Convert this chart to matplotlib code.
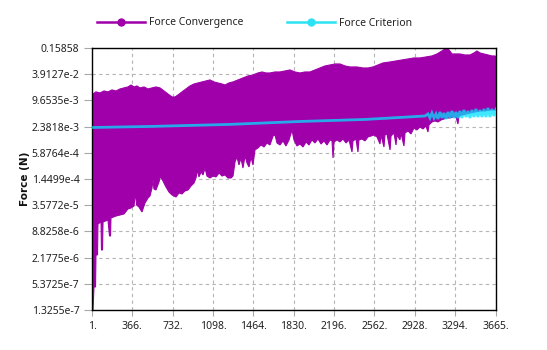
import numpy as np
import matplotlib
matplotlib.use("Agg")
import matplotlib.pyplot as plt
from matplotlib.lines import Line2D

plt.rcParams['font.family'] = ['Noto Sans', 'DejaVu Sans']

# ---------------- data ----------------
# Force Convergence: upper envelope (peaks) of the oscillating residual
conv_upper_iter = [1, 10, 37, 74, 110, 146, 182, 219, 255, 291, 327, 355, 382, 409, 436,
                   473, 509, 545, 581, 618, 654, 690, 727, 754, 781, 817, 853, 890, 926,
                   962, 999, 1035, 1071, 1107, 1144, 1180, 1207, 1243, 1280, 1325, 1370,
                   1416, 1461, 1506, 1543, 1579, 1615, 1661, 1706, 1751, 1797, 1842, 1887,
                   1933, 1978, 2023, 2069, 2114, 2160, 2205, 2250, 2296, 2341, 2404, 2458,
                   2504, 2549, 2595, 2640, 2704, 2758, 2812, 2867, 2921, 2976, 3030, 3084,
                   3130, 3175, 3202, 3220, 3239, 3266, 3302, 3338, 3384, 3429, 3465, 3492,
                   3520, 3556, 3592, 3628, 3656, 3665]
conv_upper = [0.0110, 0.0136, 0.0152, 0.0144, 0.0160, 0.0152, 0.0169, 0.0160, 0.0178, 0.0188,
              0.0198, 0.0220, 0.0198, 0.0209, 0.0188, 0.0198, 0.0178, 0.0188, 0.0198, 0.0188,
              0.0160, 0.0136, 0.0116, 0.0116, 0.0129, 0.0152, 0.0178, 0.0209, 0.0232, 0.0245,
              0.0259, 0.0273, 0.0288, 0.0259, 0.0245, 0.0232, 0.0220, 0.0245, 0.0259, 0.0288,
              0.0320, 0.0356, 0.0376, 0.0418, 0.0441, 0.0418, 0.0418, 0.0441, 0.0441, 0.0465,
              0.0491, 0.0441, 0.0418, 0.0441, 0.0441, 0.0491, 0.0546, 0.0608, 0.0641, 0.0676,
              0.0676, 0.0608, 0.0576, 0.0576, 0.0546, 0.0546, 0.0576, 0.0641, 0.0713, 0.0752,
              0.0794, 0.0837, 0.0883, 0.0932, 0.0932, 0.0983, 0.1037, 0.1154, 0.1354, 0.1507,
              0.1580, 0.1429, 0.1154, 0.1154, 0.1154, 0.1094, 0.1094, 0.1217, 0.1354, 0.1217,
              0.1154, 0.1094, 0.1037, 0.1037, 0.0983]

# Force Convergence: lower envelope (troughs)
conv_lower_iter = [1, 10, 19, 33, 37, 51, 55, 83, 87, 96, 101, 146, 160, 169, 173, 219, 255,
                   291, 327, 355, 382, 395, 405, 427, 454, 482, 509, 527, 545, 554, 563, 581,
                   609, 618, 636, 654, 672, 699, 727, 763, 790, 817, 844, 872, 899, 926, 944,
                   958, 971, 990, 1008, 1026, 1044, 1071, 1098, 1126, 1153, 1180, 1207, 1234,
                   1262, 1280, 1298, 1316, 1334, 1352, 1370, 1389, 1407, 1425, 1443, 1461,
                   1479, 1506, 1534, 1561, 1588, 1615, 1643, 1661, 1679, 1706, 1733, 1760,
                   1788, 1815, 1833, 1860, 1887, 1915, 1942, 1969, 1996, 2023, 2051, 2078,
                   2105, 2132, 2160, 2178, 2187, 2196, 2223, 2250, 2277, 2305, 2332, 2359,
                   2368, 2395, 2413, 2422, 2449, 2477, 2504, 2531, 2558, 2586, 2613, 2622,
                   2649, 2658, 2676, 2704, 2713, 2740, 2758, 2767, 2794, 2803, 2830, 2840,
                   2867, 2894, 2921, 2948, 2976, 3003, 3030, 3048, 3057, 3084, 3112, 3139,
                   3166, 3193, 3220, 3248, 3275, 3302, 3320, 3329, 3356, 3393, 3429, 3474,
                   3520, 3565, 3610, 3665]
conv_lower = [1.3255e-7, 1.3255e-7, 4.53e-7, 4.53e-7, 2.51e-6, 2.51e-6, 1.31e-5, 1.46e-5,
              3.27e-6, 3.27e-6, 1.46e-5, 1.62e-5, 6.91e-6, 6.91e-6, 1.81e-5, 2.01e-5, 2.12e-5,
              2.24e-5, 2.92e-5, 3.08e-5, 3.43e-5, 7.25e-5, 3.62e-5, 3.25e-5, 2.49e-5, 4.03e-5,
              5.26e-5, 5.86e-5, 8.98e-5, 1.38e-4, 8.51e-5, 8.07e-5, 1.24e-4, 1.62e-4, 1.45e-4,
              1.17e-4, 9.47e-5, 7.25e-5, 6.18e-5, 5.55e-5, 6.88e-5, 6.52e-5, 7.65e-5, 8.07e-5,
              9.99e-5, 1.17e-4, 1.53e-4, 2.35e-4, 1.62e-4, 2.11e-4, 1.80e-4, 2.61e-4, 1.70e-4,
              1.53e-4, 1.70e-4, 1.62e-4, 2.00e-4, 1.70e-4, 1.80e-4, 1.53e-4, 1.53e-4, 1.70e-4,
              3.60e-4, 4.70e-4, 3.07e-4, 4.46e-4, 2.61e-4, 4.96e-4, 3.41e-4, 2.76e-4, 4.70e-4,
              3.07e-4, 6.84e-4, 7.61e-4, 8.93e-4, 8.03e-4, 9.94e-4, 8.93e-4, 1.44e-3, 1.52e-3,
              9.94e-4, 8.93e-4, 1.11e-3, 8.47e-4, 1.17e-3, 1.99e-3, 1.17e-3, 8.47e-4, 9.42e-4,
              8.03e-4, 1.05e-3, 8.93e-4, 1.17e-3, 9.94e-4, 1.23e-3, 9.42e-4, 1.11e-3, 8.93e-4,
              1.17e-3, 1.11e-3, 4.46e-4, 1.05e-3, 1.17e-3, 1.05e-3, 1.23e-3, 9.94e-4, 1.17e-3,
              6.14e-4, 1.11e-3, 1.23e-3, 6.14e-4, 1.17e-3, 1.23e-3, 1.11e-3, 1.37e-3, 1.44e-3,
              1.52e-3, 1.37e-3, 9.42e-4, 1.52e-3, 8.03e-4, 1.52e-3, 1.61e-3, 6.84e-4, 1.44e-3,
              1.70e-3, 8.93e-4, 1.52e-3, 1.17e-3, 1.70e-3, 8.47e-4, 1.70e-3, 1.89e-3, 1.61e-3,
              2.21e-3, 1.99e-3, 2.34e-3, 2.10e-3, 2.46e-3, 1.79e-3, 2.60e-3, 3.05e-3, 3.22e-3,
              3.05e-3, 3.39e-3, 3.58e-3, 3.78e-3, 3.78e-3, 3.98e-3, 3.98e-3, 2.74e-3, 4.20e-3,
              4.43e-3, 4.68e-3, 4.93e-3, 5.20e-3, 5.49e-3, 5.49e-3, 5.79e-3, 5.79e-3]

# Force Criterion
crit_iter = [1, 527, 1234, 1887, 2477, 2794, 3021, 3048, 3066, 3084, 3103, 3121, 3139, 3157,
             3175, 3193, 3211, 3230, 3248, 3266, 3284, 3302, 3320, 3338, 3356, 3374, 3393,
             3411, 3429, 3447, 3465, 3483, 3501, 3520, 3538, 3556, 3574, 3592, 3610, 3628,
             3647, 3665]
crit_val = [2.27e-3, 2.40e-3, 2.67e-3, 3.13e-3, 3.49e-3, 3.88e-3, 4.20e-3, 4.68e-3, 3.78e-3,
            4.93e-3, 3.78e-3, 4.68e-3, 3.58e-3, 5.20e-3, 3.78e-3, 4.93e-3, 3.58e-3, 5.20e-3,
            3.78e-3, 5.49e-3, 3.78e-3, 5.20e-3, 3.78e-3, 5.49e-3, 3.78e-3, 5.79e-3, 3.98e-3,
            5.49e-3, 3.78e-3, 5.79e-3, 3.98e-3, 6.11e-3, 3.98e-3, 5.79e-3, 3.98e-3, 6.11e-3,
            3.98e-3, 6.45e-3, 3.98e-3, 6.11e-3, 4.20e-3, 6.11e-3]

x_ticks = [1, 366, 732, 1098, 1464, 1830, 2196, 2562, 2928, 3294, 3665]
x_tick_labels = ['1.', '366.', '732.', '1098.', '1464.', '1830.', '2196.', '2562.',
                 '2928.', '3294.', '3665.']
y_tick_labels = ['1.3255e-7', '5.3725e-7', '2.1775e-6', '8.8258e-6', '3.5772e-5',
                 '1.4499e-4', '5.8764e-4', '2.3818e-3', '9.6535e-3', '3.9127e-2', '0.15858']

series_names = ['Force Convergence', 'Force Criterion']
y_label = 'Force (N)'

# ---------------- drawing ----------------
PURPLE = '#A000AA'
CYAN = '#00E1FF'

fig = plt.figure(figsize=(5.47, 3.50), dpi=100)
ax = fig.add_axes([92 / 547, 1 - 310 / 350, (496 - 92) / 547, (310 - 48) / 350])
ax.set_yscale('log')
y_ticks = [float(s) for s in y_tick_labels]
ax.set_xlim(x_ticks[0], x_ticks[-1])
ax.set_ylim(y_ticks[0], y_ticks[-1])

ax.set_axisbelow(True)
ax.grid(True, which='major', linestyle=(0, (3, 3)), color='#B4B4B4', linewidth=0.8)

poly_x = np.concatenate([conv_upper_iter, conv_lower_iter[::-1]])
poly_y = np.concatenate([conv_upper, conv_lower[::-1]])
ax.fill(poly_x, poly_y, facecolor=PURPLE, edgecolor=PURPLE, linewidth=0.8, zorder=2)

ax.plot(crit_iter, crit_val, color=CYAN, alpha=0.75, linewidth=2.0, zorder=3,
        solid_joinstyle='miter')

ax.set_xticks(x_ticks)
ax.set_xticklabels(x_tick_labels)
ax.set_yticks(y_ticks)
ax.set_yticklabels(y_tick_labels)
ax.minorticks_off()
ax.tick_params(axis='both', direction='out', color='#A8A8A8', labelsize=7.5,
               labelcolor='#222222', width=0.8)
ax.tick_params(axis='y', length=6, pad=3)
ax.tick_params(axis='x', length=4, pad=4)
for sp in ax.spines.values():
    sp.set_color('black')
    sp.set_linewidth(1.0)

fig.text(25 / 547, 1 - 179 / 350, y_label, rotation=90, ha='center', va='center',
         fontsize=7.5, fontweight='bold', color='#111111',
         family=['DejaVu Sans'])

handles = [Line2D([], [], color=PURPLE, lw=1.8, marker='o', markersize=5),
           Line2D([], [], color='#2BE3F5', lw=1.8, marker='o', markersize=5)]
fig.legend(handles, series_names, ncol=2, loc='center',
           bbox_to_anchor=(254.5 / 547, 1 - 23 / 350), frameon=False,
           fontsize=7.5, handlelength=4.6, handletextpad=0.4, columnspacing=4.2,
           labelcolor='#222222')

fig.savefig('out.png', dpi=100)
